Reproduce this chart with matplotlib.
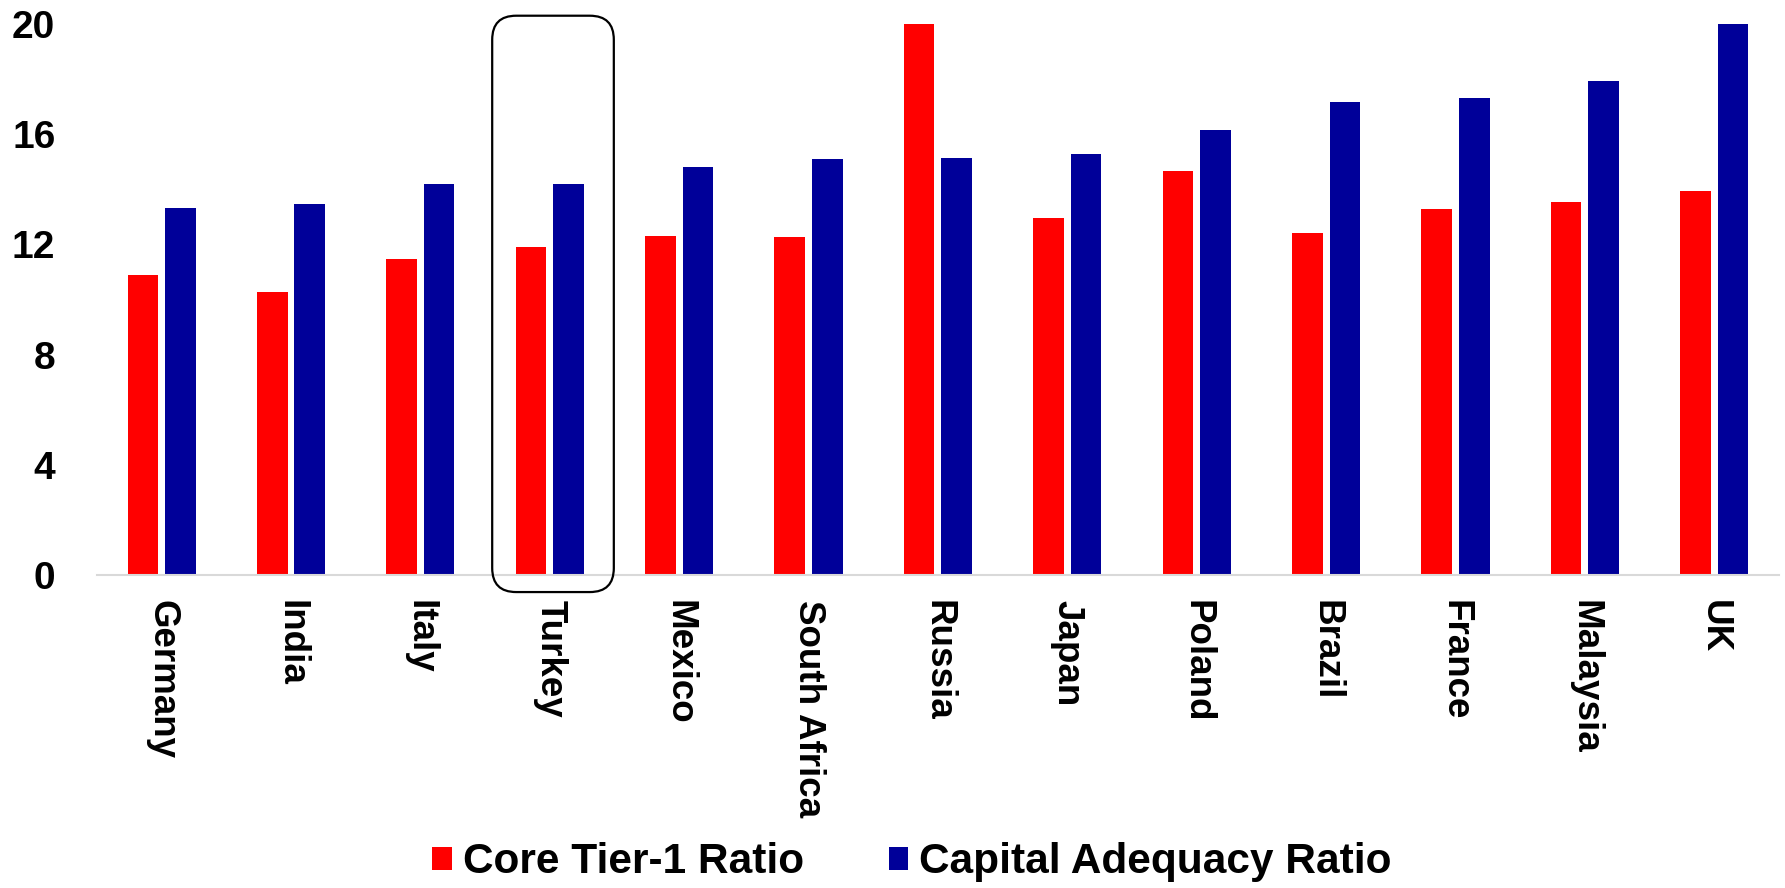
import numpy as np
import matplotlib
matplotlib.use('Agg')
import matplotlib.pyplot as plt
from matplotlib.patches import FancyBboxPatch
from matplotlib.transforms import IdentityTransform

# Chart data
countries = ['Germany', 'India', 'Italy', 'Turkey', 'Mexico', 'South Africa', 'Russia',
             'Japan', 'Poland', 'Brazil', 'France', 'Malaysia', 'UK']
core_tier1 = [10.9, 10.27, 11.46, 11.92, 12.3, 12.25, 20.0, 12.94, 14.68, 12.42, 13.27, 13.55, 13.92]
capital_adequacy = [13.33, 13.48, 14.18, 14.2, 14.82, 15.1, 15.15, 15.27, 16.15, 17.17, 17.3, 17.92, 20.0]
y_ticks = [0, 4, 8, 12, 16, 20]
highlight = 'Turkey'

RED = '#ff0000'
BLUE = '#000099'

plt.rcParams['font.family'] = ['Liberation Sans', 'DejaVu Sans']
plt.rcParams['font.weight'] = 'bold'

fig = plt.figure(figsize=(17.85, 8.88), dpi=100)
ax = fig.add_axes([0.0543, 0.3525, 0.9423, 0.6205])

x = np.arange(len(countries))
w = 0.237
off = 0.145
ax.bar(x - off, core_tier1, w, color=RED, label='Core Tier-1 Ratio')
ax.bar(x + off, capital_adequacy, w, color=BLUE, label='Capital Adequacy Ratio')

ax.set_xlim(-0.5, len(countries) - 0.5)
ax.set_ylim(0, 20)
ax.set_yticks(y_ticks)
ax.set_xticks(x)
ax.set_xticklabels(countries, rotation=270, va='top', ha='center')
ax.tick_params(axis='x', length=0, pad=18, labelsize=26.5)
ax.tick_params(axis='y', length=0, pad=30, labelsize=28)
for lab in ax.get_xticklabels() + ax.get_yticklabels():
    lab.set_fontweight('bold')

for s in ['top', 'right', 'left']:
    ax.spines[s].set_visible(False)
ax.spines['bottom'].set_color('#d9d9d9')
ax.spines['bottom'].set_linewidth(1.5)

# rounded box around the highlighted country, sized in pixels
i = countries.index(highlight)
(x0, y0) = ax.transData.transform((i - 0.445, -0.62))
(x1, y1) = ax.transData.transform((i + 0.495, 20.3))
box = FancyBboxPatch((x0, y0), x1 - x0, y1 - y0,
                     boxstyle='round,pad=0,rounding_size=24',
                     facecolor='none', edgecolor='black', linewidth=1.6,
                     transform=IdentityTransform(), clip_on=False)
fig.add_artist(box)

fig.legend(loc='center', bbox_to_anchor=(0.511, 0.029), ncol=2, frameon=False,
           prop={'size': 30.5, 'weight': 'bold'},
           handlelength=0.45, handleheight=0.45, handletextpad=0.27,
           columnspacing=2.0)

fig.savefig('out.png', dpi=100)
